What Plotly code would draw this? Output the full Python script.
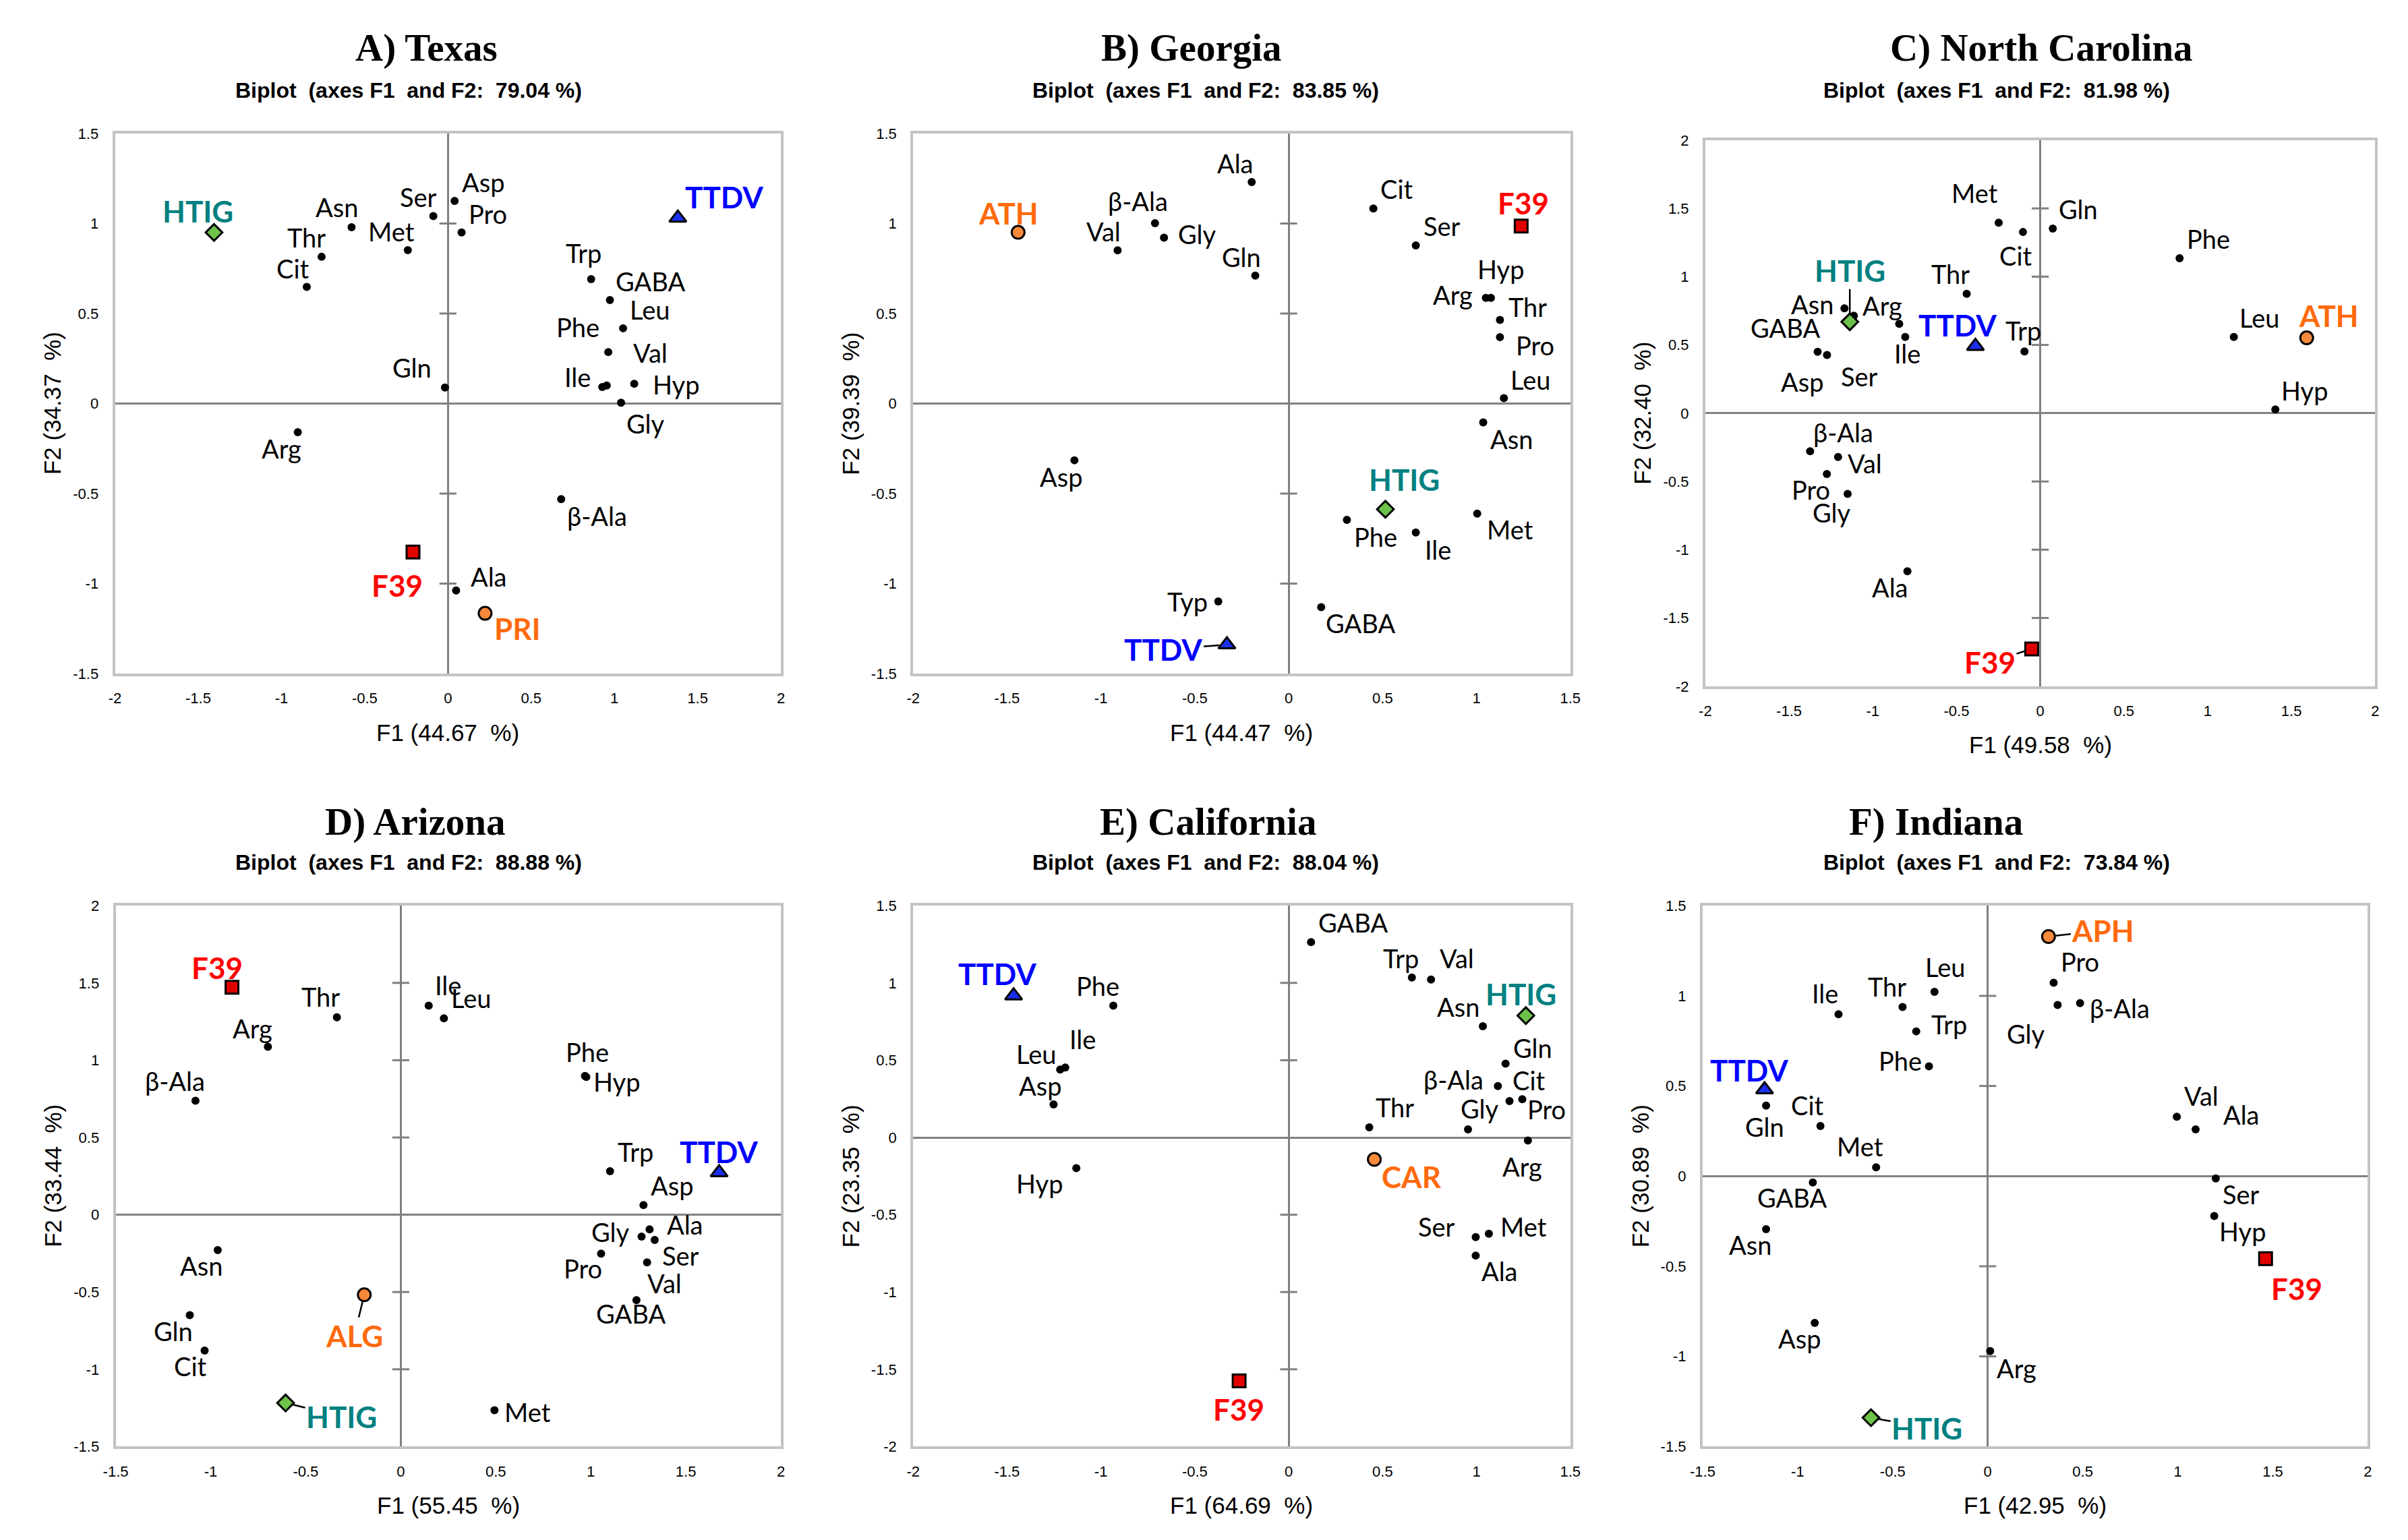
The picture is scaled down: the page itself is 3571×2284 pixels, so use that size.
import plotly.graph_objects as go

W, H = 3571, 2284

# ---------------- panel meta ----------------
titles = ["A) Texas", "B) Georgia", "C) North Carolina", "D) Arizona", "E) California", "F) Indiana"]
biplot_pct = ["79.04", "83.85", "81.98", "88.88", "88.04", "73.84"]
f1_pct = ["44.67", "44.47", "49.58", "55.45", "64.69", "42.95"]
f2_pct = ["34.37", "39.39", "32.40", "33.44", "23.35", "30.89"]
x_ranges = [(-2, 2), (-2, 1.5), (-2, 2), (-1.5, 2), (-2, 1.5), (-1.5, 2)]
y_ranges = [(-1.5, 1.5), (-1.5, 1.5), (-2, 2), (-1.5, 2), (-2, 1.5), (-1.5, 1.5)]

# ---------------- A) Texas ----------------
A_aa = ["Asn", "Thr", "Cit", "Met", "Ser", "Asp", "Pro", "Trp", "GABA", "Leu", "Phe", "Val", "Ile", "Hyp", "Gly", "Gln", "Arg", "β-Ala", "Ala"]
A_f1 = [-0.579, -0.759, -0.848, -0.241, -0.088, 0.040, 0.082, 0.860, 0.973, 1.052, 0.963, 0.954, 0.927, 1.119, 1.040, -0.018, -0.902, 0.680, 0.049]
A_f2 = [0.979, 0.815, 0.648, 0.852, 1.041, 1.125, 0.950, 0.691, 0.575, 0.418, 0.286, 0.100, 0.092, 0.110, 0.005, 0.089, -0.159, -0.531, -1.038]
A_grp = ["HTIG", "TTDV", "F39", "PRI"]
A_grp_f1 = [-1.405, 1.381, -0.210, 0.223]
A_grp_f2 = [0.950, 1.031, -0.825, -1.165]

# ---------------- B) Georgia ----------------
B_aa = ["β-Ala", "Val", "Gly", "Ala", "Gln", "Cit", "Ser", "Hyp", "Arg", "Thr", "Pro", "Leu", "Asn", "Asp", "Phe", "Ile", "Met", "Typ", "GABA"]
B_f1 = [-0.712, -0.911, -0.664, -0.197, -0.178, 0.451, 0.677, 1.077, 1.050, 1.125, 1.125, 1.146, 1.036, -1.141, 0.310, 0.677, 1.004, -0.375, 0.173]
B_f2 = [1.002, 0.851, 0.921, 1.230, 0.711, 1.083, 0.878, 0.587, 0.587, 0.464, 0.369, 0.030, -0.105, -0.315, -0.646, -0.716, -0.611, -1.099, -1.131]
B_grp = ["ATH", "F39", "HTIG", "TTDV"]
B_grp_f1 = [-1.441, 1.238, 0.515, -0.329]
B_grp_f2 = [0.951, 0.986, -0.587, -1.339]

# ---------------- C) North Carolina ----------------
C_aa = ["Met", "Cit", "Gln", "Phe", "Thr", "Asn", "Ser", "Arg", "GABA", "Asp", "Ile", "Trp", "Leu", "Hyp", "β-Ala", "Val", "Pro", "Gly", "Ala"]
C_f1 = [-0.248, -0.103, 0.075, 0.832, -0.439, -1.169, -1.113, -0.842, -1.329, -1.273, -0.806, -0.094, 1.156, 1.404, -1.374, -1.207, -1.274, -1.150, -0.793]
C_f2 = [1.395, 1.327, 1.352, 1.135, 0.875, 0.768, 0.714, 0.655, 0.450, 0.426, 0.558, 0.452, 0.559, 0.028, -0.278, -0.320, -0.445, -0.591, -1.157]
C_grp = ["HTIG", "TTDV", "ATH", "F39"]
C_grp_f1 = [-1.137, -0.387, 1.591, -0.051]
C_grp_f2 = [0.670, 0.491, 0.552, -1.726]

# ---------------- D) Arizona ----------------
D_aa = ["Thr", "Arg", "β-Ala", "Ile", "Leu", "Phe", "Hyp", "Trp", "Asp", "Ala", "Gly", "Ser", "Pro", "Val", "GABA", "Asn", "Gln", "Cit", "Met"]
D_f1 = [-0.336, -0.699, -1.080, 0.147, 0.227, 0.969, 0.976, 1.101, 1.277, 1.309, 1.267, 1.336, 1.054, 1.296, 1.240, -0.963, -1.110, -1.032, 0.493]
D_f2 = [1.278, 1.087, 0.738, 1.353, 1.271, 0.898, 0.892, 0.282, 0.063, -0.094, -0.141, -0.163, -0.251, -0.308, -0.553, -0.229, -0.650, -0.879, -1.265]
D_grp = ["F39", "TTDV", "ALG", "HTIG"]
D_grp_f1 = [-0.888, 1.675, -0.192, -0.606]
D_grp_f2 = [1.472, 0.273, -0.518, -1.218]

# ---------------- E) California ----------------
E_aa = ["Phe", "Ile", "Leu", "Asp", "Hyp", "GABA", "Trp", "Val", "Asn", "Gln", "β-Ala", "Cit", "Pro", "Gly", "Thr", "Arg", "Ser", "Met", "Ala"]
E_f1 = [-0.934, -1.190, -1.217, -1.252, -1.131, 0.119, 0.656, 0.758, 1.034, 1.155, 1.114, 1.176, 1.244, 0.955, 0.429, 1.274, 0.996, 1.066, 0.996]
E_f2 = [0.853, 0.453, 0.440, 0.214, -0.198, 1.264, 1.035, 1.022, 0.720, 0.478, 0.333, 0.236, 0.248, 0.053, 0.066, -0.019, -0.645, -0.623, -0.764]
E_grp = ["TTDV", "HTIG", "CAR", "F39"]
E_grp_f1 = [-1.465, 1.263, 0.456, -0.264]
E_grp_f2 = [0.918, 0.789, -0.142, -1.575]

# ---------------- F) Indiana ----------------
F_aa = ["Pro", "β-Ala", "Gly", "Leu", "Thr", "Trp", "Ile", "Phe", "Gln", "Cit", "Met", "GABA", "Asn", "Asp", "Arg", "Val", "Ala", "Ser", "Hyp"]
F_f1 = [0.347, 0.486, 0.368, -0.280, -0.448, -0.376, -0.785, -0.309, -1.166, -0.880, -0.587, -0.920, -1.166, -0.910, 0.013, 0.995, 1.094, 1.200, 1.192]
F_f2 = [1.073, 0.960, 0.949, 1.022, 0.938, 0.803, 0.898, 0.609, 0.391, 0.278, 0.049, -0.035, -0.294, -0.814, -0.970, 0.329, 0.259, -0.013, -0.221]
F_grp = ["APH", "TTDV", "HTIG", "F39"]
F_grp_f1 = [0.320, -1.174, -0.614, 1.462]
F_grp_f2 = [1.329, 0.480, -1.340, -0.458]

# ---------------- label placement (pixel offsets, screen: +dx right, +dy down) ----------------
A_lab = [(-22, -30), (-22, -29), (-20, -27), (-24, -28), (-22, -29), (42, -28), (39, -28), (-11, -39), (60, -28), (39, -28),
         (-45, -37), (65, -49), (-37, -15), (62, 1), (36, 31), (-49, -30), (-24, 24), (53, 25), (49, -21)]
A_glab = [(-24, -32), (69, -31), (-23, 49), (48, 22)]
A_lead = [False, False, False, False]

B_lab = [(-25, -33), (-21, -28), (49, -6), (-24, -28), (-21, -28), (35, -29), (39, -29), (14, -43), (-49, -5), (41, -20),
         (52, 12), (39, -28), (42, 24), (-20, 24), (43, 25), (33, 25), (49, 23), (-46, 0), (58, 23)]
B_glab = [(-14, -29), (3, -34), (28, -44), (-94, 7)]
B_lead = [False, False, False, True]

C_lab = [(-36, -44), (-11, 35), (38, -29), (43, -29), (-24, -30), (-48, -6), (8, 90), (-25, -27), (-48, -36), (-37, 39),
         (3, 24), (-2, -31), (38, -29), (43, -28), (49, -28), (40, 9), (-24, 23), (-23, 27), (-26, 24)]
C_glab = [(0, -76), (-26, -31), (33, -33), (-62, 20)]
C_lead = [True, False, False, True]

D_lab = [(-24, -31), (-23, -28), (-30, -29), (29, -31), (40, -30), (4, -36), (45, 7), (38, -29), (42, -29), (53, -7),
         (-46, -7), (39, 23), (-27, 22), (26, 31), (-8, 20), (-24, 23), (-24, 23), (-21, 23), (49, 2)]
D_glab = [(-22, -29), (0, -31), (-15, 61), (83, 20)]
D_lead = [False, False, True, True]

E_lab = [(-23, -30), (26, -42), (-36, -23), (-20, -28), (-55, 23), (62, -29), (-16, -29), (38, -32), (-37, -29), (40, -23),
         (-66, -10), (29, -31), (36, 15), (17, -31), (38, -30), (-8, 39), (-58, -16), (52, -11), (36, 23)]
E_glab = [(-24, -33), (-7, -32), (55, 25), (-1, 42)]
E_lead = [False, False, False, False]

F_lab = [(39, -31), (59, 7), (-47, 42), (16, -37), (-23, -31), (49, -11), (-20, -31), (-43, -8), (-2, 31), (-19, -31),
         (-24, -31), (-31, 22), (-24, 23), (-23, 23), (39, 25), (36, -31), (68, -22), (38, 23), (42, 23)]
F_glab = [(81, -9), (-23, -29), (83, 15), (46, 44)]
F_lead = [True, False, True, False]

panels = [
    (A_aa, A_f1, A_f2, A_grp, A_grp_f1, A_grp_f2, A_lab, A_glab, A_lead),
    (B_aa, B_f1, B_f2, B_grp, B_grp_f1, B_grp_f2, B_lab, B_glab, B_lead),
    (C_aa, C_f1, C_f2, C_grp, C_grp_f1, C_grp_f2, C_lab, C_glab, C_lead),
    (D_aa, D_f1, D_f2, D_grp, D_grp_f1, D_grp_f2, D_lab, D_glab, D_lead),
    (E_aa, E_f1, E_f2, E_grp, E_grp_f1, E_grp_f2, E_lab, E_glab, E_lead),
    (F_aa, F_f1, F_f2, F_grp, F_grp_f1, F_grp_f2, F_lab, F_glab, F_lead),
]

# ---------------- layout geometry (pixels) ----------------
plot_px = [(153, 1150, 188, 998), (1348, 2332, 188, 998), (2534, 3537, 198, 1017),
           (154, 1150, 1346, 2157), (1348, 2332, 1346, 2157), (2530, 3526, 1346, 2157)]
title_px = [(619, 60), (1765, 60), (3037, 60), (603, 1220), (1790, 1220), (2879, 1220)]
subtitle_px = [(593, 123), (1786, 123), (2970, 123), (593, 1281), (1786, 1281), (2970, 1281)]

ORANGE_TXT = "#FF6A0D"
grp_style = {
    "HTIG": dict(symbol="diamond", fill="#6CC24A", size=19, txt="#008080"),
    "TTDV": dict(symbol="triangle-up", fill="#1A2FF0", size=22, txt="#0000FF"),
    "F39": dict(symbol="square", fill="#E00000", size=19, txt="#FF0000"),
}
default_style = dict(symbol="circle", fill="#F7893A", size=19, txt=ORANGE_TXT)

LABEL_FONT = "Lato, Noto Sans, sans-serif"
SANS = "Liberation Sans, Arial, sans-serif"
SERIF = "Liberation Serif, Times New Roman, serif"


def tick_text(v):
    return "%g" % v  # ASCII hyphen-minus as in the original


fig = go.Figure()
annotations = []

for i, (aa, f1, f2, grp, gf1, gf2, lab, glab, lead) in enumerate(panels):
    n = i + 1
    xa = "x" if n == 1 else f"x{n}"
    ya = "y" if n == 1 else f"y{n}"
    xl, xr, yt, yb = plot_px[i]
    xdom = [xl / W, xr / W]
    ydom = [1 - yb / H, 1 - yt / H]
    xr0, xr1 = x_ranges[i]
    yr0, yr1 = y_ranges[i]
    xt = [xr0 + 0.5 * k for k in range(int(round((xr1 - xr0) / 0.5)) + 1)]
    yt_ = [yr0 + 0.5 * k for k in range(int(round((yr1 - yr0) / 0.5)) + 1)]

    axis_common = dict(showgrid=False, zeroline=True, zerolinecolor="#808080", zerolinewidth=3,
                       showline=True, mirror=True, linecolor="#C3C3C3", linewidth=4,
                       ticks="", tickfont=dict(family=SANS, size=22, color="#000000"),
                       fixedrange=True)
    fig.layout[("xaxis" if n == 1 else f"xaxis{n}")] = dict(
        domain=xdom, range=[xr0, xr1], anchor=ya, tickmode="array", tickvals=xt,
        ticktext=[tick_text(v) for v in xt], ticklabelstandoff=14, **axis_common)
    fig.layout[("yaxis" if n == 1 else f"yaxis{n}")] = dict(
        domain=ydom, range=[yr0, yr1], anchor=xa, tickmode="array", tickvals=yt_,
        ticktext=[tick_text(v) for v in yt_], ticklabelstandoff=16, **axis_common)

    # tick stubs on the vertical zero axis
    inner = [v for v in yt_ if abs(v) > 1e-9 and v != yr0 and v != yr1]
    fig.add_trace(go.Scatter(x=[0] * len(inner), y=inner, xaxis=xa, yaxis=ya, mode="markers",
                             marker=dict(symbol="line-ew", size=18, line=dict(width=3, color="#808080")),
                             hoverinfo="skip", showlegend=False))

    # amino-acid points
    fig.add_trace(go.Scatter(x=f1, y=f2, xaxis=xa, yaxis=ya, mode="markers",
                             marker=dict(color="#000000", size=12), text=aa,
                             hoverinfo="text", showlegend=False))
    for name, x, y, (dx, dy) in zip(aa, f1, f2, lab):
        annotations.append(dict(x=x, y=y, xref=xa, yref=ya, text=name, showarrow=False,
                                xshift=dx, yshift=-dy, xanchor="center", yanchor="middle",
                                font=dict(family=LABEL_FONT, size=38, color="#000000")))

    # group points
    for name, x, y, (dx, dy), ld in zip(grp, gf1, gf2, glab, lead):
        st = grp_style.get(name, default_style)
        fig.add_trace(go.Scatter(x=[x], y=[y], xaxis=xa, yaxis=ya, mode="markers",
                                 marker=dict(symbol=st["symbol"], size=st["size"], color=st["fill"],
                                             line=dict(color="#000000", width=3)),
                                 text=[name], hoverinfo="text", showlegend=False))
        fnt = dict(family=LABEL_FONT, size=44, color=st["txt"], weight="bold")
        if ld:
            annotations.append(dict(x=x, y=y, xref=xa, yref=ya, text="<b>%s</b>" % name,
                                    showarrow=True, ax=dx, ay=dy, arrowhead=0, arrowwidth=2.5,
                                    arrowcolor="#000000", standoff=11, xanchor="center",
                                    yanchor="middle", font=fnt))
        else:
            annotations.append(dict(x=x, y=y, xref=xa, yref=ya, text="<b>%s</b>" % name,
                                    showarrow=False, xshift=dx, yshift=-dy, xanchor="center",
                                    yanchor="middle", font=fnt))

    # axis titles
    annotations.append(dict(x=0.5, y=0, xref=f"{xa} domain", yref=f"{ya} domain",
                            text="F1 (%s\u00a0 %%)" % f1_pct[i], showarrow=False,
                            yshift=-87, xanchor="center", yanchor="middle",
                            font=dict(family=SANS, size=35, color="#000000")))
    annotations.append(dict(x=0, y=0.5, xref=f"{xa} domain", yref=f"{ya} domain",
                            text="F2 (%s\u00a0 %%)" % f2_pct[i], showarrow=False, textangle=-90,
                            xshift=-93, xanchor="center", yanchor="middle",
                            font=dict(family=SANS, size=35, color="#000000")))

    # titles
    tx, ty = title_px[i]
    annotations.append(dict(x=tx / W, y=1 - ty / H, xref="paper", yref="paper",
                            text="<b>%s</b>" % titles[i], showarrow=False,
                            xanchor="center", yanchor="middle",
                            font=dict(family=SERIF, size=57, color="#000000")))
    sx, sy = subtitle_px[i]
    annotations.append(dict(x=sx / W, y=1 - sy / H, xref="paper", yref="paper",
                            text="<b>Biplot\u00a0 (axes F1\u00a0 and F2:\u00a0 %s %%)</b>" % biplot_pct[i],
                            showarrow=False, xanchor="center", yanchor="middle",
                            font=dict(family=SANS, size=32, color="#000000")))

fig.update_layout(width=W, height=H, margin=dict(l=0, r=0, t=0, b=0),
                  paper_bgcolor="#FFFFFF", plot_bgcolor="#FFFFFF",
                  annotations=annotations, showlegend=False)

fig.write_html("out.html",
               config={"displayModeBar": False},
               post_script="var gd=document.getElementById('{plot_id}');"
                           "gd.style.position='fixed';gd.style.left='0px';gd.style.top='0px';"
                           "document.body.style.margin='0px';"
                           "document.documentElement.style.overflow='hidden';"
                           "document.body.style.overflow='hidden';")
